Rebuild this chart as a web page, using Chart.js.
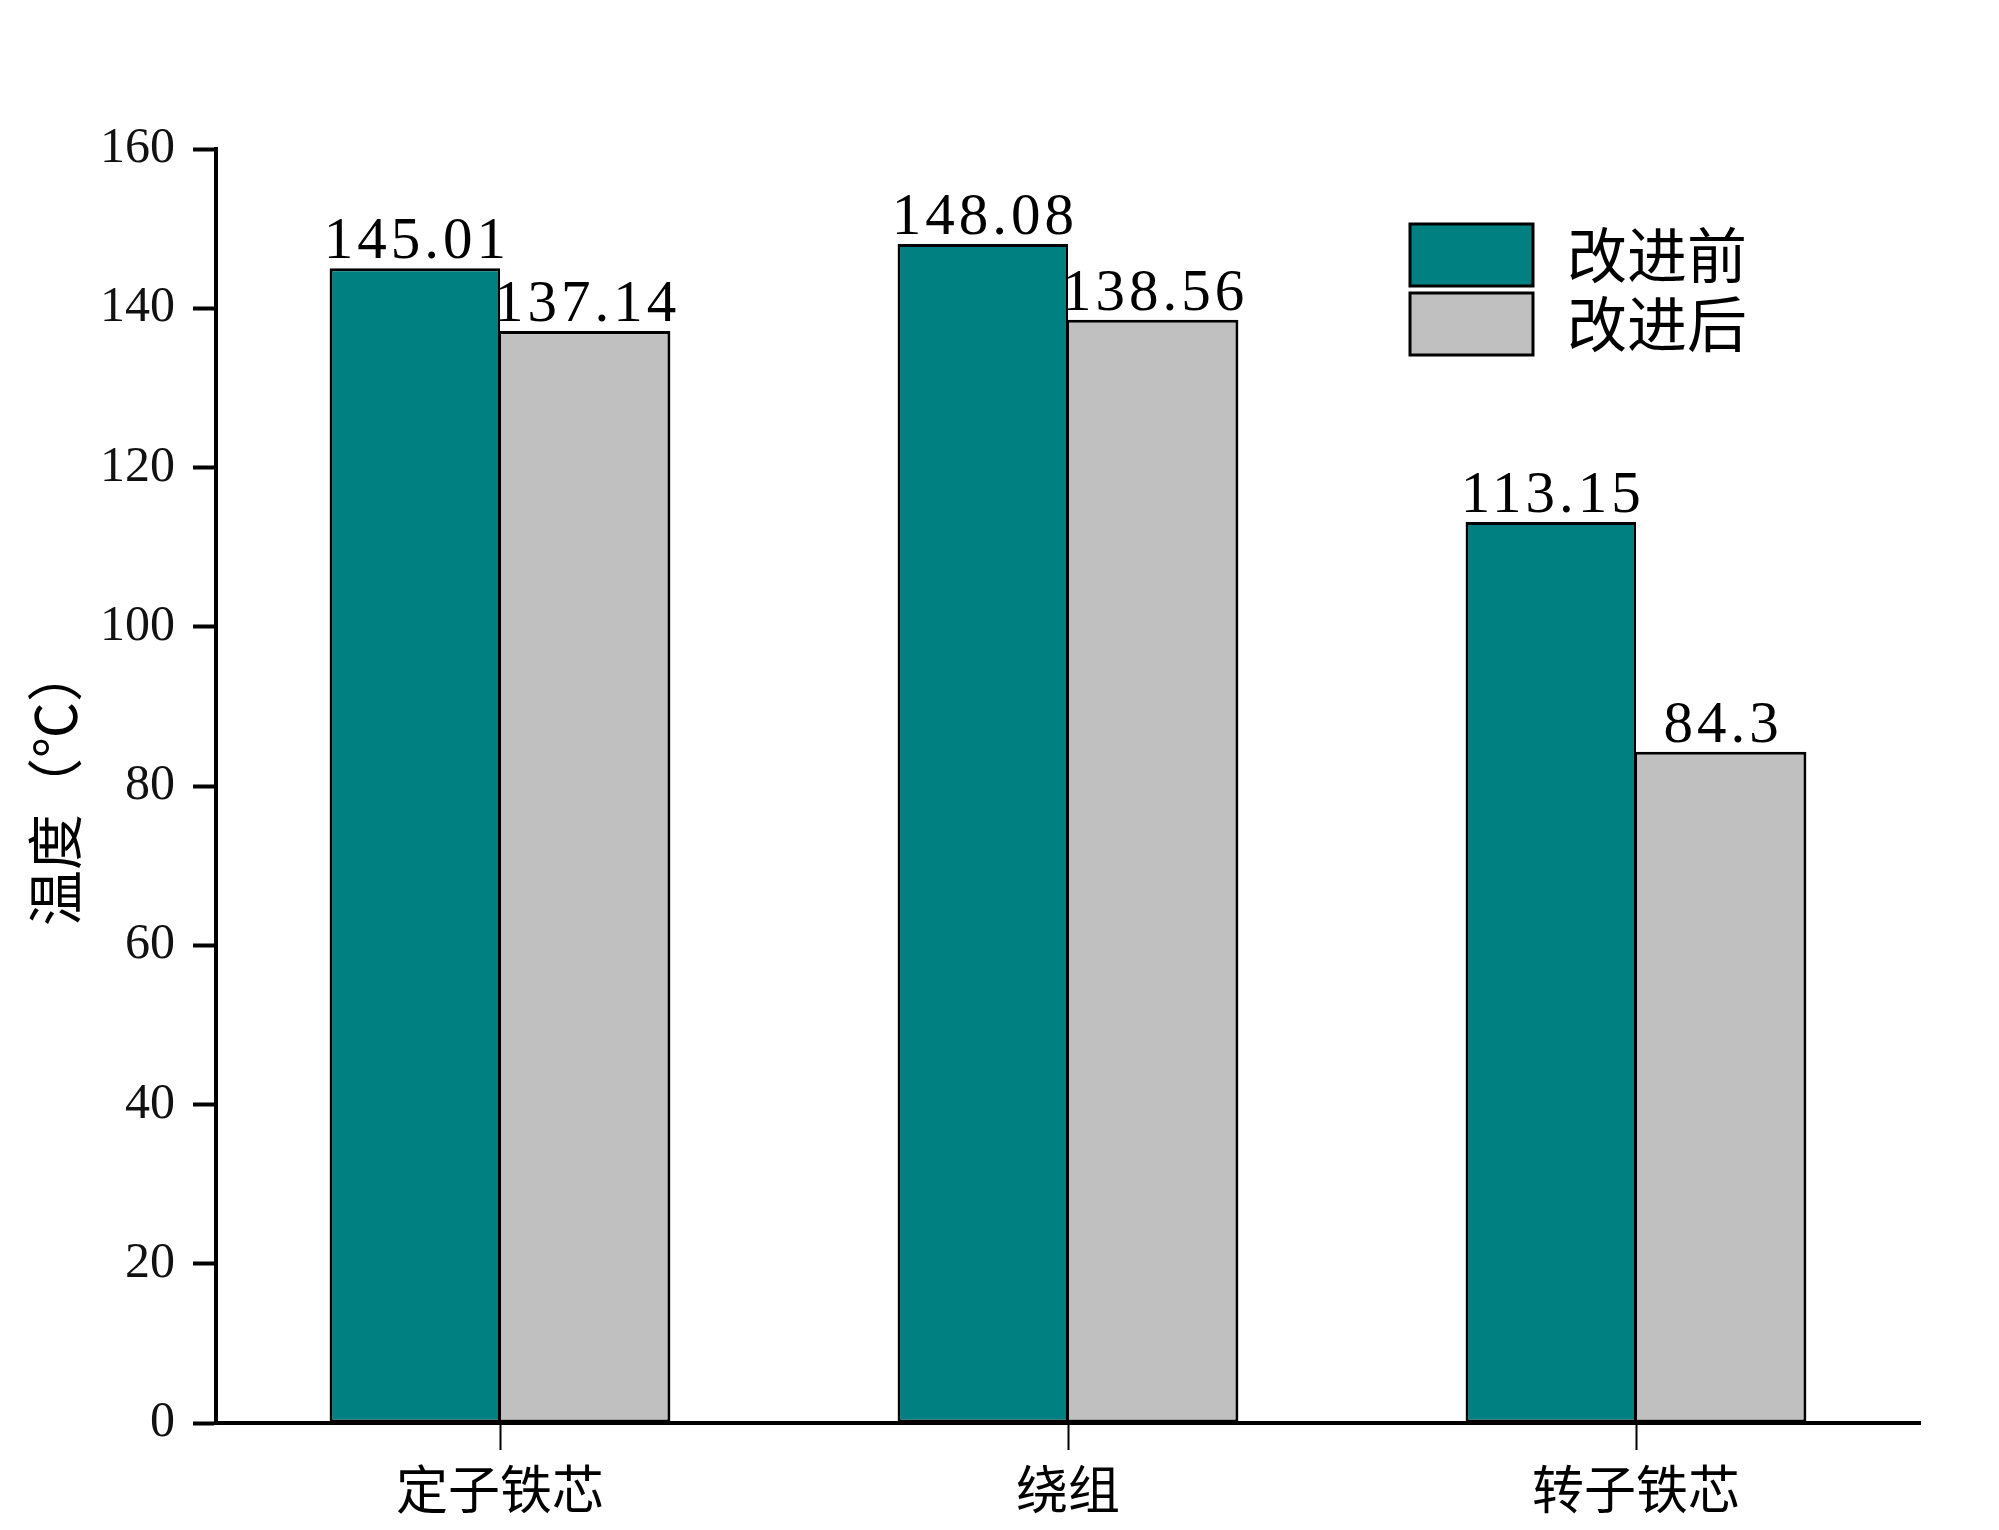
<!DOCTYPE html>
<html lang="zh-CN">
<head>
<meta charset="UTF-8">
<title>温度对比</title>
<style>
    html, body {
        margin: 0;
        padding: 0;
        background: #fff;
    }

    .chart-container {
        width: 1999px;
        height: 1530px;
    }
</style>
</head>
<body>
<div class="chart-container">
    <canvas id="tempChart"></canvas>
</div>

<script src="https://cdn.jsdelivr.net/npm/chart.js@4"></script>
<script>
    const categories = ['定子铁芯', '绕组', '转子铁芯'];
    const seriesNames = ['改进前', '改进后'];
    const beforeValues = [145.01, 148.08, 113.15];
    const afterValues = [137.14, 138.56, 84.3];
    const yTicks = [0, 20, 40, 60, 80, 100, 120, 140, 160];

    const numFont = "'Liberation Serif', 'DejaVu Serif', serif";
    const cjkFont = "'Noto Sans CJK SC', 'Noto Sans', sans-serif";

    // value labels above the bars
    const valueLabels = {
        id: 'valueLabels',
        afterDatasetsDraw(chart) {
            const ctx = chart.ctx;
            ctx.save();
            ctx.font = '59px ' + numFont;
            ctx.fillStyle = '#000';
            ctx.textAlign = 'center';
            ctx.textBaseline = 'alphabetic';
            if ('letterSpacing' in ctx) ctx.letterSpacing = '4px';
            chart.data.datasets.forEach((ds, i) => {
                chart.getDatasetMeta(i).data.forEach((bar, j) => {
                    ctx.fillText(String(ds.data[j]), bar.x + 2, bar.y - 10);
                });
            });
            ctx.restore();
        }
    };

    // legend inside the plot, upper right
    const boxLegend = {
        id: 'boxLegend',
        afterDraw(chart) {
            const ctx = chart.ctx;
            ctx.save();
            ctx.font = '60px ' + cjkFont;
            ctx.textBaseline = 'middle';
            ctx.textAlign = 'left';
            chart.data.datasets.forEach((ds, i) => {
                const x = 1410;
                const y = 224 + i * 69;
                ctx.fillStyle = ds.backgroundColor;
                ctx.fillRect(x, y, 123, 62);
                ctx.lineWidth = 3;
                ctx.strokeStyle = '#000';
                ctx.strokeRect(x, y, 123, 62);
                ctx.fillStyle = '#000';
                ctx.fillText(ds.label, 1567, y + 31);
            });
            ctx.restore();
        }
    };

    const ctx = document.getElementById('tempChart').getContext('2d');

    const tempChart = new Chart(ctx, {
        type: 'bar',
        data: {
            labels: categories,
            datasets: [
                {
                    label: seriesNames[0],
                    data: beforeValues,
                    backgroundColor: '#008080',
                    borderColor: '#000',
                    borderWidth: { top: 3, left: 3, right: 2, bottom: 3 },
                    borderSkipped: false
                },
                {
                    label: seriesNames[1],
                    data: afterValues,
                    backgroundColor: '#c0c0c0',
                    borderColor: '#000',
                    borderWidth: { top: 3, left: 1, right: 3, bottom: 3 },
                    borderSkipped: false
                }
            ]
        },
        options: {
            responsive: true,
            maintainAspectRatio: false,
            animation: false,
            categoryPercentage: 0.6,
            barPercentage: 1.0,
            layout: {
                padding: { top: 149, right: 79, left: 0, bottom: 0 }
            },
            plugins: {
                legend: { display: false },
                tooltip: { enabled: false }
            },
            scales: {
                x: {
                    offset: true,
                    grid: {
                        offset: false,
                        drawOnChartArea: false,
                        tickLength: 27,
                        tickWidth: 2,
                        tickColor: '#000'
                    },
                    border: { display: true, color: '#000', width: 4 },
                    ticks: {
                        color: '#000',
                        padding: 8,
                        font: { family: cjkFont, size: 52 }
                    },
                    afterFit(scale) {
                        scale.height = 107;
                    }
                },
                y: {
                    min: 0,
                    max: 160,
                    afterBuildTicks(scale) {
                        scale.ticks = yTicks.map(v => ({ value: v }));
                    },
                    grid: {
                        drawOnChartArea: false,
                        tickLength: 23,
                        tickWidth: 4,
                        tickColor: '#000'
                    },
                    border: { display: true, color: '#000', width: 4 },
                    ticks: {
                        color: '#111',
                        padding: 18,
                        font: { family: numFont, size: 50 }
                    },
                    title: {
                        display: true,
                        text: '温度（℃）',
                        color: '#000',
                        padding: { top: 21, bottom: 0 },
                        font: { family: cjkFont, size: 56 }
                    },
                    afterFit(scale) {
                        scale.width = 216;
                    }
                }
            }
        },
        plugins: [valueLabels, boxLegend]
    });
</script>
</body>
</html>
